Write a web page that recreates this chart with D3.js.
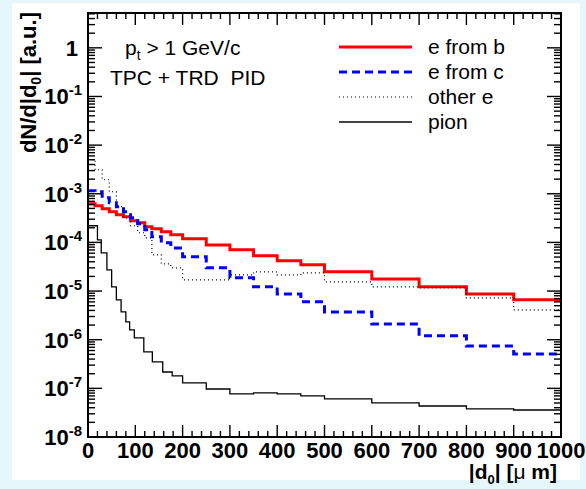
<!DOCTYPE html>
<html>
<head>
<meta charset="utf-8">
<script src="https://cdn.jsdelivr.net/npm/d3@7"></script>
<style>
  html, body { margin: 0; padding: 0; background: #e6f7fb; }
  text { font-family: "Liberation Sans", Arial, Helvetica, sans-serif; }
</style>
</head>
<body>
<svg id="chart"></svg>
<script>
// Bin edges in |d0| (micrometres)
const eEdges = [0, 15, 30, 45, 60, 75, 90, 105, 120, 135, 155, 175, 200,
                250, 300, 350, 400, 450, 500, 600, 700, 800, 900, 1000];
const pionEdges = [0, 20, 28, 40, 50, 60, 70, 80, 88, 98, 118, 136, 158, 178, 200,
                   250, 300, 350, 400, 450, 500, 600, 700, 800, 900, 1000];

// Bin contents (a.u.)
const eFromB = [6.2e-4, 5.66e-4, 4.91e-4, 4.27e-4, 3.7e-4, 3.37e-4, 2.78e-4, 2.53e-4,
                2.09e-4, 1.91e-4, 1.65e-4, 1.43e-4, 1.19e-4, 8.9e-5, 7.05e-5, 5.3e-5,
                4.18e-5, 3.46e-5, 2.48e-5, 1.78e-5, 1.22e-5, 8.75e-6, 6.6e-6];
const eFromC = [1.15e-3, 1.1e-3, 8.28e-4, 6.53e-4, 5.41e-4, 4.27e-4, 3.21e-4, 2.42e-4,
                1.82e-4, 1.3e-4, 9.8e-5, 7.7e-5, 5.06e-5, 3.0e-5, 1.87e-5, 1.22e-5,
                8.75e-6, 6.0e-6, 3.73e-6, 2.11e-6, 1.2e-6, 7.45e-7, 5.1e-7];
const otherE = [5.0e-3, 3.12e-3, 1.94e-3, 1.1e-3, 5.41e-4, 3.21e-4, 2.2e-4, 1.58e-4,
                1.24e-4, 5.56e-5, 3.63e-5, 3.0e-5, 1.7e-5, 1.7e-5, 2.15e-5, 2.48e-5,
                2.15e-5, 2.37e-5, 1.55e-5, 1.22e-5, 1.16e-5, 7.25e-6, 4.1e-6];
const pion = [2.2e-4, 1.13e-4, 6.11e-5, 2.73e-5, 1.22e-5, 6.6e-6, 3.73e-6, 2.32e-6,
              1.59e-6, 1.09e-6, 5.61e-7, 3.49e-7, 2.17e-7, 1.8e-7, 1.29e-7, 9.7e-8,
              7.67e-8, 8.04e-8, 7.67e-8, 6.98e-8, 6.05e-8, 5.01e-8, 4.34e-8, 3.77e-8, 3.59e-8];

const xTicks = [0, 100, 200, 300, 400, 500, 600, 700, 800, 900, 1000];
const yExponents = [-8, -7, -6, -5, -4, -3, -2, -1, 0];

const series = [
    {name: "e from b",  edges: eEdges,    values: eFromB, color: "#ff0000", width: 3,   dash: null},
    {name: "e from c",  edges: eEdges,    values: eFromC, color: "#0000ff", width: 3,   dash: "8,5"},
    {name: "other e",   edges: eEdges,    values: otherE, color: "#000000", width: 1.2, dash: "1,3"},
    {name: "pion",      edges: pionEdges, values: pion,   color: "#000000", width: 1.3, dash: null}
];

// Dimensions
const width = 586, height = 489;
const margin = {top: 13, right: 25, bottom: 52, left: 88};

const svg = d3.select("#chart")
    .attr("width", width)
    .attr("height", height);

// White picture area on the pale page
svg.append("rect")
    .attr("x", 12).attr("y", 3)
    .attr("width", 568).attr("height", 477)
    .attr("fill", "#ffffff");

// Scales
const xScale = d3.scaleLinear()
    .domain([0, 1000])
    .range([margin.left, width - margin.right]);

const yScale = d3.scaleLog()
    .domain([1e-8, 5.2])
    .range([height - margin.bottom, margin.top]);

const x0 = xScale.range()[0], x1 = xScale.range()[1];
const y0 = yScale.range()[0], y1 = yScale.range()[1];

// Clip for the histograms
svg.append("clipPath").attr("id", "frame")
    .append("rect")
    .attr("x", x0).attr("y", y1)
    .attr("width", x1 - x0).attr("height", y0 - y1);

// Histograms as steps
const line = d3.line()
    .x(d => xScale(d[0]))
    .y(d => yScale(d[1]))
    .curve(d3.curveStepAfter);

series.forEach(s => {
    const pts = s.values.map((v, i) => [s.edges[i], v]);
    pts.push([s.edges[s.edges.length - 1], s.values[s.values.length - 1]]);
    svg.append("path")
        .attr("clip-path", "url(#frame)")
        .attr("d", line(pts))
        .attr("fill", "none")
        .attr("stroke", s.color)
        .attr("stroke-width", s.width)
        .attr("stroke-dasharray", s.dash);
});

// Ticks on all four sides, pointing inwards
const ticks = svg.append("g")
    .attr("stroke", "#000")
    .attr("stroke-width", 1.4);

d3.range(0, 1001, 20).forEach(v => {
    const len = v % 100 === 0 ? 12 : 6;
    const px = xScale(v);
    ticks.append("line").attr("x1", px).attr("x2", px).attr("y1", y0).attr("y2", y0 - len);
    ticks.append("line").attr("x1", px).attr("x2", px).attr("y1", y1).attr("y2", y1 + len);
});

yExponents.forEach(e => {
    for (let k = 1; k <= 9; k++) {
        const v = k * Math.pow(10, e);
        if (v > yScale.domain()[1]) break;
        const len = k === 1 ? 14 : 7;
        const py = yScale(v);
        ticks.append("line").attr("x1", x0).attr("x2", x0 + len).attr("y1", py).attr("y2", py);
        ticks.append("line").attr("x1", x1).attr("x2", x1 - len).attr("y1", py).attr("y2", py);
    }
});

// Frame
svg.append("rect")
    .attr("x", x0).attr("y", y1)
    .attr("width", x1 - x0).attr("height", y0 - y1)
    .attr("fill", "none")
    .attr("stroke", "#000")
    .attr("stroke-width", 2);

// X tick labels
svg.selectAll(".xlabel")
    .data(xTicks)
    .enter().append("text")
    .attr("x", d => xScale(d))
    .attr("y", y0 + 21)
    .attr("text-anchor", "middle")
    .style("font-size", "22px")
    .style("font-weight", "bold")
    .text(d => d);

// Y tick labels
yExponents.forEach(e => {
    const t = svg.append("text")
        .attr("y", yScale(Math.pow(10, e)) + 8)
        .attr("text-anchor", "end")
        .style("font-size", "22px")
        .style("font-weight", "bold");
    if (e === 0) {
        t.attr("x", 78).text("1");
    } else {
        t.attr("x", 82);
        t.append("tspan").text("10");
        t.append("tspan").attr("dy", -9).style("font-size", "15px").text(e);
    }
});

// X axis title
const xt = svg.append("text")
    .attr("x", 557)
    .attr("y", 479)
    .attr("text-anchor", "end")
    .style("font-size", "21px")
    .style("font-weight", "bold");
xt.append("tspan").text("|d");
xt.append("tspan").attr("dy", 5).style("font-size", "13px").text("0");
xt.append("tspan").attr("dy", -5).text("| [");
xt.append("tspan").style("font-weight", "normal").text("\u03bc");
xt.append("tspan").text(" m]");

// Y axis title
const yt = svg.append("text")
    .attr("transform", "translate(36,12) rotate(-90)")
    .attr("text-anchor", "end")
    .style("font-size", "22px")
    .style("font-weight", "bold");
yt.append("tspan").text("dN/d|d");
yt.append("tspan").attr("dy", 5).style("font-size", "14px").text("0");
yt.append("tspan").attr("dy", -5).text("| [a.u.]");

// Labels in the plot
const pt = svg.append("text")
    .attr("x", 125).attr("y", 55)
    .style("font-size", "21px");
pt.append("tspan").text("p");
pt.append("tspan").attr("dy", 5).style("font-size", "14px").text("t");
pt.append("tspan").attr("dy", -5).text(" > 1 GeV/c");

svg.append("text")
    .attr("x", 110).attr("y", 85)
    .style("font-size", "21px")
    .style("white-space", "pre")
    .text("TPC + TRD  PID");

// Legend
const legend = svg.selectAll(".legend")
    .data(series)
    .enter().append("g")
    .attr("class", "legend")
    .attr("transform", (d, i) => `translate(339, ${47 + i * 25})`);

legend.append("line")
    .attr("x1", 0).attr("x2", 73)
    .attr("y1", 0).attr("y2", 0)
    .attr("stroke", d => d.name === "pion" ? "#444" : d.color)
    .attr("stroke-width", d => d.name === "pion" ? 2 : d.width)
    .attr("stroke-dasharray", d => d.dash);

legend.append("text")
    .attr("x", 89)
    .attr("y", 7)
    .style("font-size", "21px")
    .text(d => d.name);
</script>
</body>
</html>
